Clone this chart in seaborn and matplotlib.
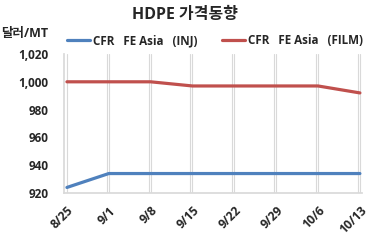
import matplotlib
matplotlib.use("Agg")
import matplotlib.pyplot as plt
import seaborn as sns
import pandas as pd

dates = ["8/25", "9/1", "9/8", "9/15", "9/22", "9/29", "10/6", "10/13"]
inj = [924, 934, 934, 934, 934, 934, 934, 934]
film = [1000, 1000, 1000, 997, 997, 997, 997, 992]
series_names = ["CFR   FE Asia   (INJ)", "CFR   FE Asia   (FILM)"]
yticks = [920, 940, 960, 980, 1000, 1020]

sns.set_theme(style="white")
plt.rcParams['font.family'] = ['Open Sans', 'Noto Sans CJK KR', 'DejaVu Sans']

df = pd.DataFrame({
    "x": list(range(len(dates))) * 2,
    "price": inj + film,
    "series": [series_names[0]] * len(dates) + [series_names[1]] * len(dates),
})

fig = plt.figure(figsize=(3.69, 2.40), dpi=100)
ax = fig.add_axes([64/369, 1-193/240, (362-64)/369, (193-54)/240])
sns.lineplot(data=df, x="x", y="price", hue="series",
             palette=["#4F81BD", "#C0504D"], linewidth=2.3, ax=ax, legend=False)

ax.set_xlim(-0.07, 7.05)
ax.set_ylim(920, 1020)
ax.set_yticks(yticks)
ax.set_yticklabels([f"{v:,}" for v in yticks], fontsize=8.5, fontweight="bold")
ax.set_xticks(range(len(dates)))
ax.set_xticks([i - 0.05 for i in range(1, len(dates))], minor=True)
ax.set_xticklabels(dates, rotation=45, ha="right", rotation_mode="anchor",
                   fontsize=8.7, fontweight="bold")
ax.tick_params(axis="both", which="both", length=0)
ax.tick_params(axis="y", pad=11)
ax.tick_params(axis="x", pad=8)
ax.set_xlabel("")
ax.set_ylabel("")
ax.grid(axis="x", which="both", color="#D9D9D9", linewidth=0.8)
ax.set_axisbelow(True)
for s in ["top", "right"]:
    ax.spines[s].set_visible(False)
ax.spines["left"].set_color("#D9D9D9")
ax.spines["bottom"].set_color("#D9D9D9")

fig.text(0.5, 1-15/240, "HDPE 가격동향", ha="center", va="center",
         fontsize=11.5, fontweight="bold")
fig.text(1/369, 1-33/240, "달러/MT", ha="left", va="center",
         fontsize=9, fontweight="bold")

# legend
for (x0, name, col) in [(67, series_names[0], "#4F81BD"), (222, series_names[1], "#C0504D")]:
    fig.add_artist(plt.Line2D([x0/369, (x0+23)/369], [1-40/240, 1-40/240],
                              color=col, linewidth=2.3, transform=fig.transFigure))
    fig.text((x0+26)/369, 1-40.5/240, name, ha="left", va="center",
             fontsize=8.4, fontweight="bold")

fig.savefig("out.png", dpi=100)
